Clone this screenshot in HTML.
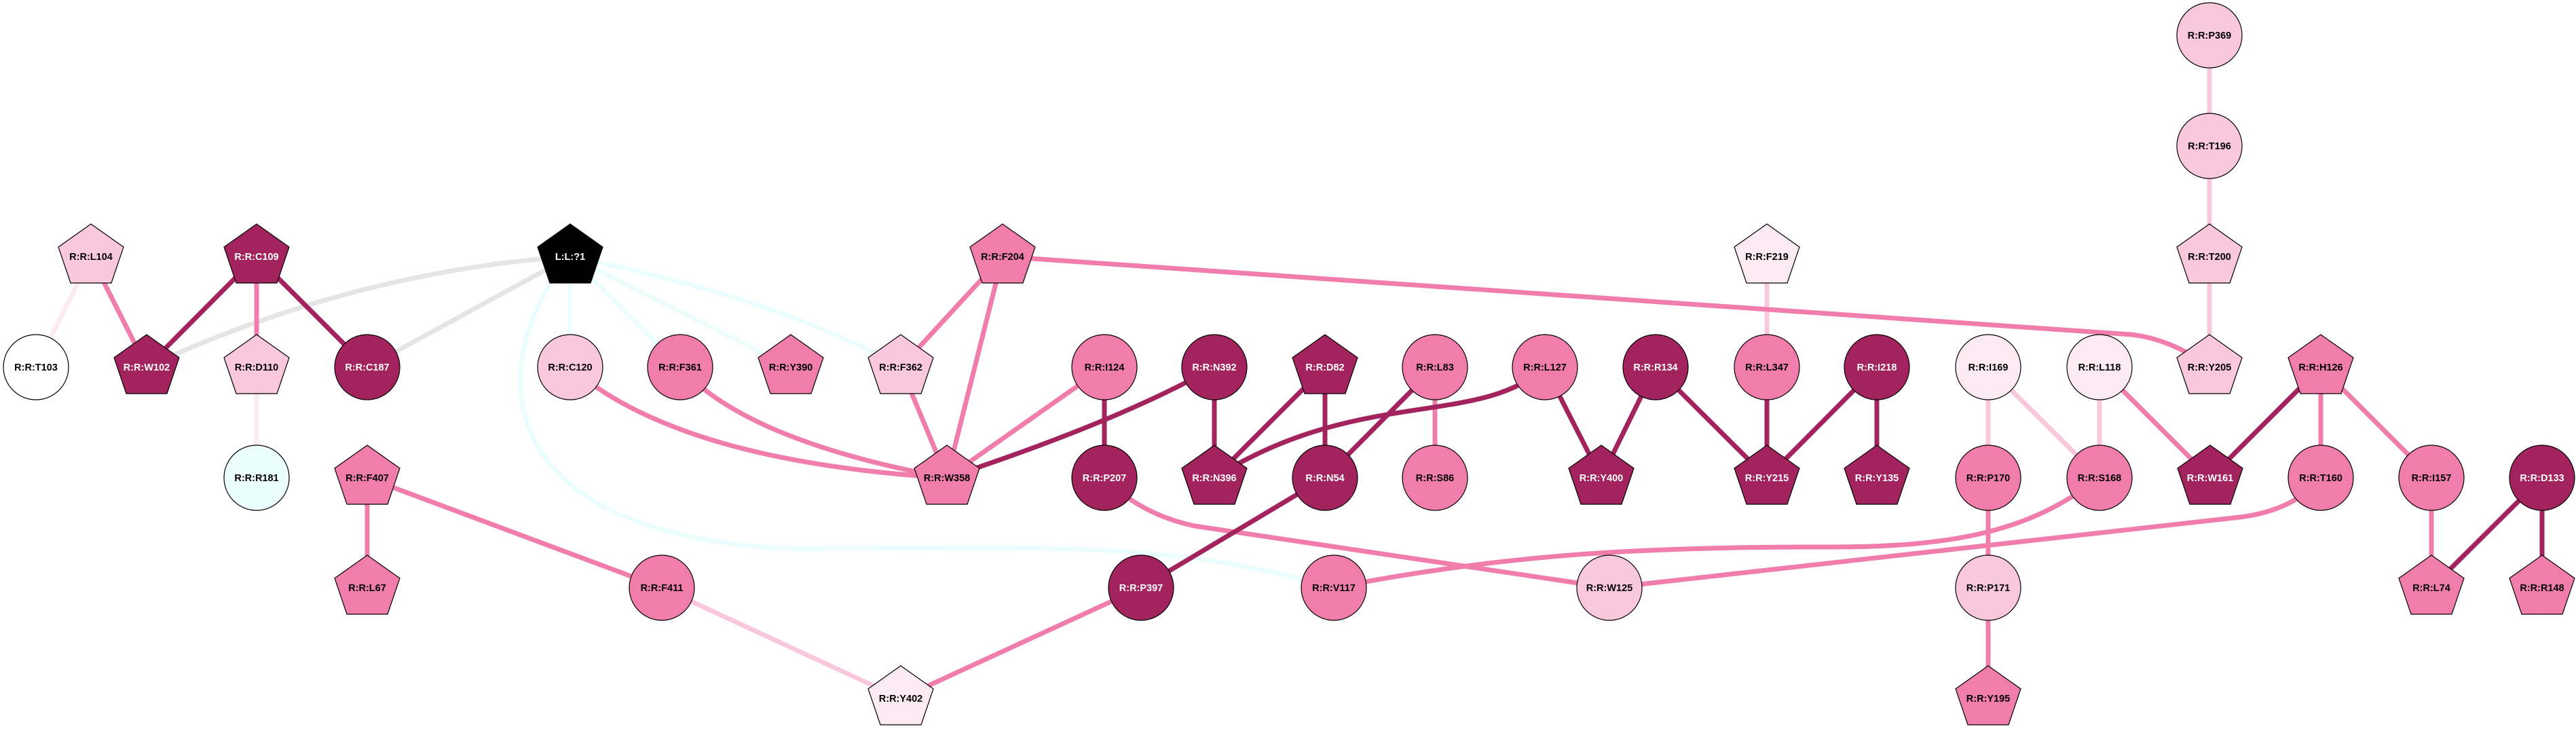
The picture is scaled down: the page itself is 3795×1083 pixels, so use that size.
<!DOCTYPE html>
<html><head><meta charset="utf-8"><style>
html,body{margin:0;padding:0;background:#fff;}
svg{display:block;}
text{font-family:"Liberation Sans",Arial,sans-serif;font-weight:bold;font-size:14.5px;text-anchor:middle;}
</style></head><body>
<svg width="3795" height="1083" viewBox="0 0 3795 1083" xmlns="http://www.w3.org/2000/svg">
<defs>
<polygon id="pent" points="0,-48 48,-14 30,39 -30,39 -48,-14" stroke="#000" stroke-width="1.2"/>
</defs>
<g fill="none" stroke-width="7">
<!-- light/very light -->
<line x1="134" y1="378" x2="53" y2="541" stroke="#FCEAF2"/>
<line x1="378" y1="541" x2="378" y2="704" stroke="#FCEAF2"/>
<line x1="975" y1="866" x2="1327" y2="1029" stroke="#F9C8DC"/>
<line x1="2603" y1="378" x2="2603" y2="541" stroke="#F9C8DC"/>
<line x1="2929" y1="541" x2="2929" y2="704" stroke="#F9C8DC"/>
<line x1="2929" y1="541" x2="3093" y2="704" stroke="#F9C8DC"/>
<line x1="3093" y1="541" x2="3093" y2="704" stroke="#F9C8DC"/>
<line x1="3255" y1="52" x2="3255" y2="215" stroke="#F9C8DC"/>
<line x1="3255" y1="215" x2="3255" y2="378" stroke="#F9C8DC"/>
<line x1="3255" y1="378" x2="3255" y2="541" stroke="#F9C8DC"/>
<!-- gray -->
<path d="M840,378 Q520,400 216,541" stroke="#E5E5E5"/>
<line x1="840" y1="378" x2="541" y2="541" stroke="#E5E5E5"/>
<!-- cyan -->
<g stroke="#EBFEFD">
<line x1="840" y1="378" x2="840" y2="541"/>
<line x1="840" y1="378" x2="1002" y2="541"/>
<line x1="840" y1="378" x2="1165" y2="541"/>
<path d="M840,378 Q1150,440 1327,541"/>
<path d="M840,378 C720,520 700,780 1150,808 C1500,810 1700,790 1965,866"/>
</g>
<!-- medium -->
<g stroke="#F07DAB">
<line x1="134" y1="378" x2="216" y2="541"/>
<line x1="378" y1="378" x2="378" y2="541"/>
<line x1="541" y1="704" x2="541" y2="866"/>
<line x1="541" y1="704" x2="975" y2="866"/>
<path d="M840,541 Q1000,680 1395,704"/>
<path d="M1002,541 Q1100,650 1395,704"/>
<line x1="1477" y1="378" x2="1327" y2="541"/>
<line x1="1477" y1="378" x2="1395" y2="704"/>
<line x1="1327" y1="541" x2="1395" y2="704"/>
<line x1="1627" y1="541" x2="1395" y2="704"/>
<path d="M1477,378 L3140,493 Q3200,500 3255,541"/>
<line x1="2114" y1="541" x2="2114" y2="704"/>
<line x1="1681" y1="866" x2="1327" y2="1029"/>
<path d="M1627,704 Q1680,758 1760,775 L2371,866"/>
<path d="M1965,866 C2200,820 2400,805 2700,806 C2900,806 3000,775 3093,704"/>
<path d="M2371,866 L3300,762 Q3380,752 3419,704"/>
<line x1="3093" y1="541" x2="3256" y2="704"/>
<line x1="3419" y1="541" x2="3419" y2="704"/>
<line x1="3419" y1="541" x2="3582" y2="704"/>
<line x1="2929" y1="704" x2="2929" y2="866"/>
<line x1="2929" y1="866" x2="2929" y2="1029"/>
<line x1="3582" y1="704" x2="3582" y2="866"/>
</g>
<!-- dark -->
<g stroke="#A2235E">
<line x1="378" y1="378" x2="216" y2="541"/>
<line x1="378" y1="378" x2="541" y2="541"/>
<path d="M1789,541 Q1650,620 1395,704"/>
<line x1="1627" y1="541" x2="1627" y2="704"/>
<line x1="1789" y1="541" x2="1789" y2="704"/>
<line x1="1952" y1="541" x2="1789" y2="704"/>
<line x1="1952" y1="541" x2="1952" y2="704"/>
<line x1="2114" y1="541" x2="1952" y2="704"/>
<path d="M2276,541 C2180,630 2000,570 1789,704"/>
<line x1="2276" y1="541" x2="2359" y2="704"/>
<line x1="2439" y1="541" x2="2359" y2="704"/>
<line x1="2439" y1="541" x2="2603" y2="704"/>
<line x1="1952" y1="704" x2="1681" y2="866"/>
<line x1="2603" y1="541" x2="2603" y2="704"/>
<line x1="2765" y1="541" x2="2603" y2="704"/>
<line x1="2765" y1="541" x2="2765" y2="704"/>
<line x1="3419" y1="541" x2="3256" y2="704"/>
<line x1="3745" y1="704" x2="3582" y2="866"/>
<line x1="3745" y1="704" x2="3745" y2="866"/>
</g>
</g>
<!-- nodes -->
<g stroke="#000" stroke-width="1.2">
<!-- circles -->
<ellipse cx="53" cy="541" rx="48" ry="48" fill="#FFFFFF"/>
<ellipse cx="541" cy="541" rx="48" ry="48" fill="#A2235E"/>
<ellipse cx="378" cy="704" rx="48" ry="48" fill="#EBFEFD"/>
<ellipse cx="975" cy="866" rx="48" ry="48" fill="#F07DAB"/>
<ellipse cx="840" cy="541" rx="48" ry="48" fill="#F9C8DC"/>
<ellipse cx="1002" cy="541" rx="48" ry="48" fill="#F07DAB"/>
<ellipse cx="1627" cy="541" rx="48" ry="48" fill="#F07DAB"/>
<ellipse cx="1789" cy="541" rx="48" ry="48" fill="#A2235E"/>
<ellipse cx="2114" cy="541" rx="48" ry="48" fill="#F07DAB"/>
<ellipse cx="2276" cy="541" rx="48" ry="48" fill="#F07DAB"/>
<ellipse cx="2439" cy="541" rx="48" ry="48" fill="#A2235E"/>
<ellipse cx="1627" cy="704" rx="48" ry="48" fill="#A2235E"/>
<ellipse cx="1952" cy="704" rx="48" ry="48" fill="#A2235E"/>
<ellipse cx="2114" cy="704" rx="48" ry="48" fill="#F07DAB"/>
<ellipse cx="1681" cy="866" rx="48" ry="48" fill="#A2235E"/>
<ellipse cx="1965" cy="866" rx="48" ry="48" fill="#F07DAB"/>
<ellipse cx="2371" cy="866" rx="48" ry="48" fill="#F9C8DC"/>
<ellipse cx="2603" cy="541" rx="48" ry="48" fill="#F07DAB"/>
<ellipse cx="2765" cy="541" rx="48" ry="48" fill="#A2235E"/>
<ellipse cx="2929" cy="541" rx="48" ry="48" fill="#FCEAF2"/>
<ellipse cx="3093" cy="541" rx="48" ry="48" fill="#FCEAF2"/>
<ellipse cx="2929" cy="704" rx="48" ry="48" fill="#F07DAB"/>
<ellipse cx="3093" cy="704" rx="48" ry="48" fill="#F07DAB"/>
<ellipse cx="3419" cy="704" rx="48" ry="48" fill="#F07DAB"/>
<ellipse cx="3582" cy="704" rx="48" ry="48" fill="#F07DAB"/>
<ellipse cx="3745" cy="704" rx="48" ry="48" fill="#A2235E"/>
<ellipse cx="2929" cy="866" rx="48" ry="48" fill="#F9C8DC"/>
<ellipse cx="3255" cy="52" rx="48" ry="48" fill="#F9C8DC"/>
<ellipse cx="3255" cy="215" rx="48" ry="48" fill="#F9C8DC"/>
</g>
<!-- pentagons -->
<use href="#pent" x="134" y="378" fill="#F9C8DC"/>
<use href="#pent" x="378" y="378" fill="#A2235E"/>
<use href="#pent" x="840" y="378" fill="#000000"/>
<use href="#pent" x="1477" y="378" fill="#F07DAB"/>
<use href="#pent" x="2603" y="378" fill="#FCEAF2"/>
<use href="#pent" x="3255" y="378" fill="#F9C8DC"/>
<use href="#pent" x="216" y="541" fill="#A2235E"/>
<use href="#pent" x="378" y="541" fill="#F9C8DC"/>
<use href="#pent" x="1165" y="541" fill="#F07DAB"/>
<use href="#pent" x="1327" y="541" fill="#F9C8DC"/>
<use href="#pent" x="1952" y="541" fill="#A2235E"/>
<use href="#pent" x="3255" y="541" fill="#F9C8DC"/>
<use href="#pent" x="3419" y="541" fill="#F07DAB"/>
<use href="#pent" x="541" y="704" fill="#F07DAB"/>
<use href="#pent" x="1395" y="704" fill="#F07DAB"/>
<use href="#pent" x="1789" y="704" fill="#A2235E"/>
<use href="#pent" x="2359" y="704" fill="#A2235E"/>
<use href="#pent" x="2603" y="704" fill="#A2235E"/>
<use href="#pent" x="2765" y="704" fill="#A2235E"/>
<use href="#pent" x="3256" y="704" fill="#A2235E"/>
<use href="#pent" x="541" y="866" fill="#F07DAB"/>
<use href="#pent" x="3582" y="866" fill="#F07DAB"/>
<use href="#pent" x="3745" y="866" fill="#F07DAB"/>
<use href="#pent" x="1327" y="1029" fill="#FCEAF2"/>
<use href="#pent" x="2929" y="1029" fill="#F07DAB"/>
<!-- labels dark bg -->
<g fill="#fff">
<text x="378" y="383">R:R:C109</text>
<text x="840" y="383">L:L:?1</text>
<text x="216" y="546">R:R:W102</text>
<text x="541" y="546">R:R:C187</text>
<text x="1789" y="546">R:R:N392</text>
<text x="1952" y="546">R:R:D82</text>
<text x="2439" y="546">R:R:R134</text>
<text x="2765" y="546">R:R:I218</text>
<text x="1627" y="709">R:R:P207</text>
<text x="1789" y="709">R:R:N396</text>
<text x="1952" y="709">R:R:N54</text>
<text x="2359" y="709">R:R:Y400</text>
<text x="2603" y="709">R:R:Y215</text>
<text x="2765" y="709">R:R:Y135</text>
<text x="3256" y="709">R:R:W161</text>
<text x="3745" y="709">R:R:D133</text>
<text x="1681" y="871">R:R:P397</text>
</g>
<g fill="#000">
<text x="134" y="383">R:R:L104</text>
<text x="1477" y="383">R:R:F204</text>
<text x="2603" y="383">R:R:F219</text>
<text x="3255" y="383">R:R:T200</text>
<text x="3255" y="57">R:R:P369</text>
<text x="3255" y="220">R:R:T196</text>
<text x="53" y="546">R:R:T103</text>
<text x="378" y="546">R:R:D110</text>
<text x="840" y="546">R:R:C120</text>
<text x="1002" y="546">R:R:F361</text>
<text x="1165" y="546">R:R:Y390</text>
<text x="1327" y="546">R:R:F362</text>
<text x="1627" y="546">R:R:I124</text>
<text x="2114" y="546">R:R:L83</text>
<text x="2276" y="546">R:R:L127</text>
<text x="2603" y="546">R:R:L347</text>
<text x="2929" y="546">R:R:I169</text>
<text x="3093" y="546">R:R:L118</text>
<text x="3255" y="546">R:R:Y205</text>
<text x="3419" y="546">R:R:H126</text>
<text x="378" y="709">R:R:R181</text>
<text x="541" y="709">R:R:F407</text>
<text x="1395" y="709">R:R:W358</text>
<text x="2114" y="709">R:R:S86</text>
<text x="2929" y="709">R:R:P170</text>
<text x="3093" y="709">R:R:S168</text>
<text x="3419" y="709">R:R:T160</text>
<text x="3582" y="709">R:R:I157</text>
<text x="541" y="871">R:R:L67</text>
<text x="975" y="871">R:R:F411</text>
<text x="1965" y="871">R:R:V117</text>
<text x="2371" y="871">R:R:W125</text>
<text x="2929" y="871">R:R:P171</text>
<text x="3582" y="871">R:R:L74</text>
<text x="3745" y="871">R:R:R148</text>
<text x="1327" y="1034">R:R:Y402</text>
<text x="2929" y="1034">R:R:Y195</text>
</g>
</svg>
</body></html>
